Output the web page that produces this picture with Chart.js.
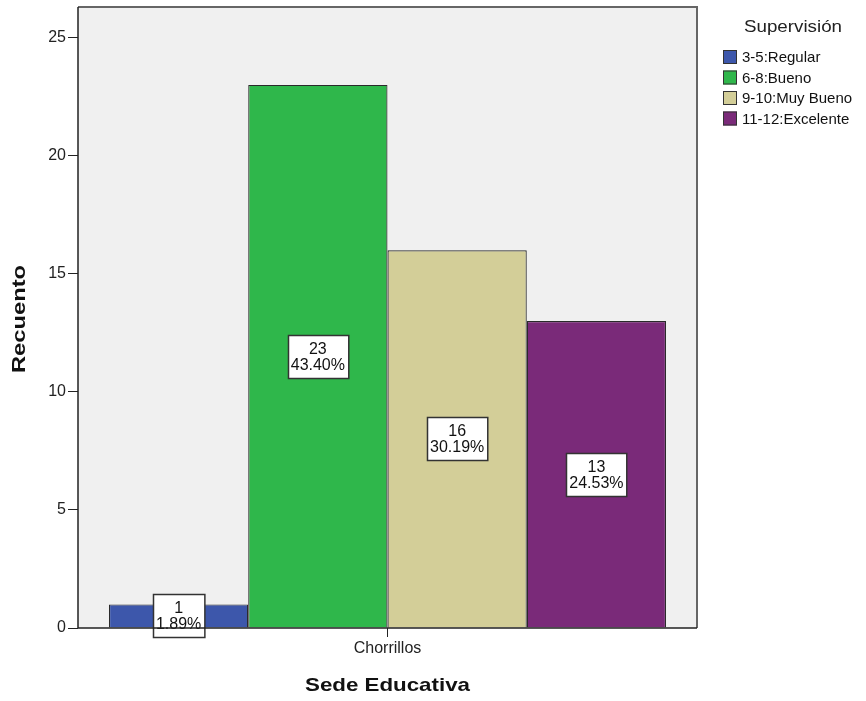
<!DOCTYPE html>
<html>
<head>
<meta charset="utf-8">
<script src="https://cdn.jsdelivr.net/npm/chart.js@4.4.1/dist/chart.umd.min.js"></script>
<style>
  html, body { margin: 0; padding: 0; background: #fff; }
  #wrap { width: 866px; height: 701px; }
</style>
</head>
<body>
<div id="wrap"><canvas id="grafico" width="866" height="701"></canvas></div>
<script>
// datos
const sedes = ['Chorrillos'];
const niveles = ['3-5:Regular', '6-8:Bueno', '9-10:Muy Bueno', '11-12:Excelente'];
const recuentos = [1, 23, 16, 13];
const porcentajes = ['1.89%', '43.40%', '30.19%', '24.53%'];
const colores = ['#3d57ab', '#2fb74b', '#d3ce98', '#7a2a79'];
const yTicks = [0, 5, 10, 15, 20, 25];

const FONT = '"Liberation Sans", Arial, sans-serif';

// texto estirado a un ancho dado
function textoAncho(ctx, txt, x, y, ancho, rot) {
  ctx.save();
  ctx.translate(x, y);
  if (rot) ctx.rotate(rot);
  const w = ctx.measureText(txt).width;
  ctx.scale(ancho / w, 1);
  ctx.fillText(txt, 0, 0);
  ctx.restore();
}

const fondoPlot = {
  id: 'fondoPlot',
  beforeDraw(chart) {
    const {ctx, chartArea: a} = chart;
    ctx.save();
    ctx.fillStyle = '#f0f0f0';
    ctx.fillRect(a.left, a.top, a.right - a.left, a.bottom - a.top);
    ctx.restore();
  },
  afterDraw(chart) {
    const {ctx, chartArea: a} = chart;
    ctx.save();
    ctx.strokeStyle = '#666';
    ctx.lineWidth = 2;
    ctx.beginPath();
    ctx.moveTo(a.left, a.top);
    ctx.lineTo(a.right, a.top);
    ctx.lineTo(a.right, a.bottom);
    ctx.stroke();
    ctx.strokeStyle = '#222';
    ctx.lineWidth = 1.5;
    ctx.beginPath();
    ctx.moveTo(a.left, a.top);
    ctx.lineTo(a.left, a.bottom);
    ctx.lineTo(a.right, a.bottom);
    ctx.stroke();

    // titulos de ejes
    ctx.fillStyle = '#111';
    ctx.font = 'bold 19px ' + FONT;
    ctx.textAlign = 'center';
    ctx.textBaseline = 'middle';
    textoAncho(ctx, 'Sede Educativa', (a.left + a.right) / 2, 686, 165, 0);
    textoAncho(ctx, 'Recuento', 20, 319, 108, -Math.PI / 2);

    // leyenda
    ctx.fillStyle = '#222';
    ctx.textAlign = 'left';
    ctx.font = '17px ' + FONT;
    textoAncho(ctx, 'Supervisión', 744, 27, 98, 0);
    ctx.font = '15px ' + FONT;
    chart.data.datasets.forEach((ds, i) => {
      const y = 57 + i * 20.5;
      ctx.fillStyle = ds.backgroundColor;
      ctx.fillRect(723, y - 7, 14, 14);
      ctx.strokeStyle = '#333';
      ctx.lineWidth = 1;
      ctx.strokeRect(723.5, y - 6.5, 13, 13);
      ctx.fillStyle = '#111';
      ctx.fillText(ds.label, 742, y + 1);
    });
    ctx.restore();
  }
};

const etiquetas = {
  id: 'etiquetas',
  afterDatasetsDraw(chart) {
    const {ctx} = chart;
    ctx.save();
    ctx.font = '16px ' + FONT;
    ctx.textAlign = 'center';
    ctx.textBaseline = 'middle';
    chart.data.datasets.forEach((ds, i) => {
      const bar = chart.getDatasetMeta(i).data[0];
      const cx = bar.x;
      const cy = (bar.y + bar.base) / 2;
      const l1 = String(ds.data[0]);
      const l2 = porcentajes[i];
      const w = Math.max(ctx.measureText(l1).width, ctx.measureText(l2).width) + 6;
      const h = 43;
      const x0 = Math.round(cx - w / 2) + 0.5;
      const y0 = Math.round(cy - h / 2) + 0.5;
      ctx.fillStyle = '#fff';
      ctx.fillRect(x0, y0, w, h);
      ctx.strokeStyle = '#333';
      ctx.lineWidth = 1.5;
      ctx.strokeRect(x0, y0, w, h);
      ctx.fillStyle = '#111';
      ctx.fillText(l1, cx, cy - 7);
      ctx.fillText(l2, cx, cy + 9);
    });
    ctx.restore();
  }
};

new Chart(document.getElementById('grafico').getContext('2d'), {
  type: 'bar',
  data: {
    labels: sedes,
    datasets: niveles.map((n, i) => ({
      label: n,
      data: [recuentos[i]],
      backgroundColor: colores[i],
      borderColor: '#2a2a2a',
      borderWidth: 1.2,
      categoryPercentage: 0.9,
      barPercentage: 1.0
    }))
  },
  options: {
    responsive: false,
    animation: false,
    devicePixelRatio: 1,
    layout: { autoPadding: false, padding: { left: 0, top: 7, right: 169, bottom: 0 } },
    plugins: { legend: { display: false }, tooltip: { enabled: false } },
    scales: {
      x: {
        grid: { display: true, offset: false, drawOnChartArea: false, drawTicks: true, tickLength: 9, color: '#222' },
        border: { display: false },
        ticks: { color: '#222', font: { family: FONT, size: 16 }, padding: 2 },
        afterFit(scale) { scale.height = 73; }
      },
      y: {
        min: 0,
        max: 26.3,
        grid: { display: true, drawOnChartArea: false, drawTicks: true, tickLength: 10, color: '#222' },
        border: { display: false },
        ticks: { stepSize: 5, color: '#222', font: { family: FONT, size: 16, lineHeight: 0.5 }, padding: 2 },
        afterBuildTicks(scale) {
          scale.ticks = yTicks.map(v => ({ value: v }));
        },
        afterFit(scale) { scale.width = 78; }
      }
    }
  },
  plugins: [fondoPlot, etiquetas]
});
</script>
</body>
</html>
